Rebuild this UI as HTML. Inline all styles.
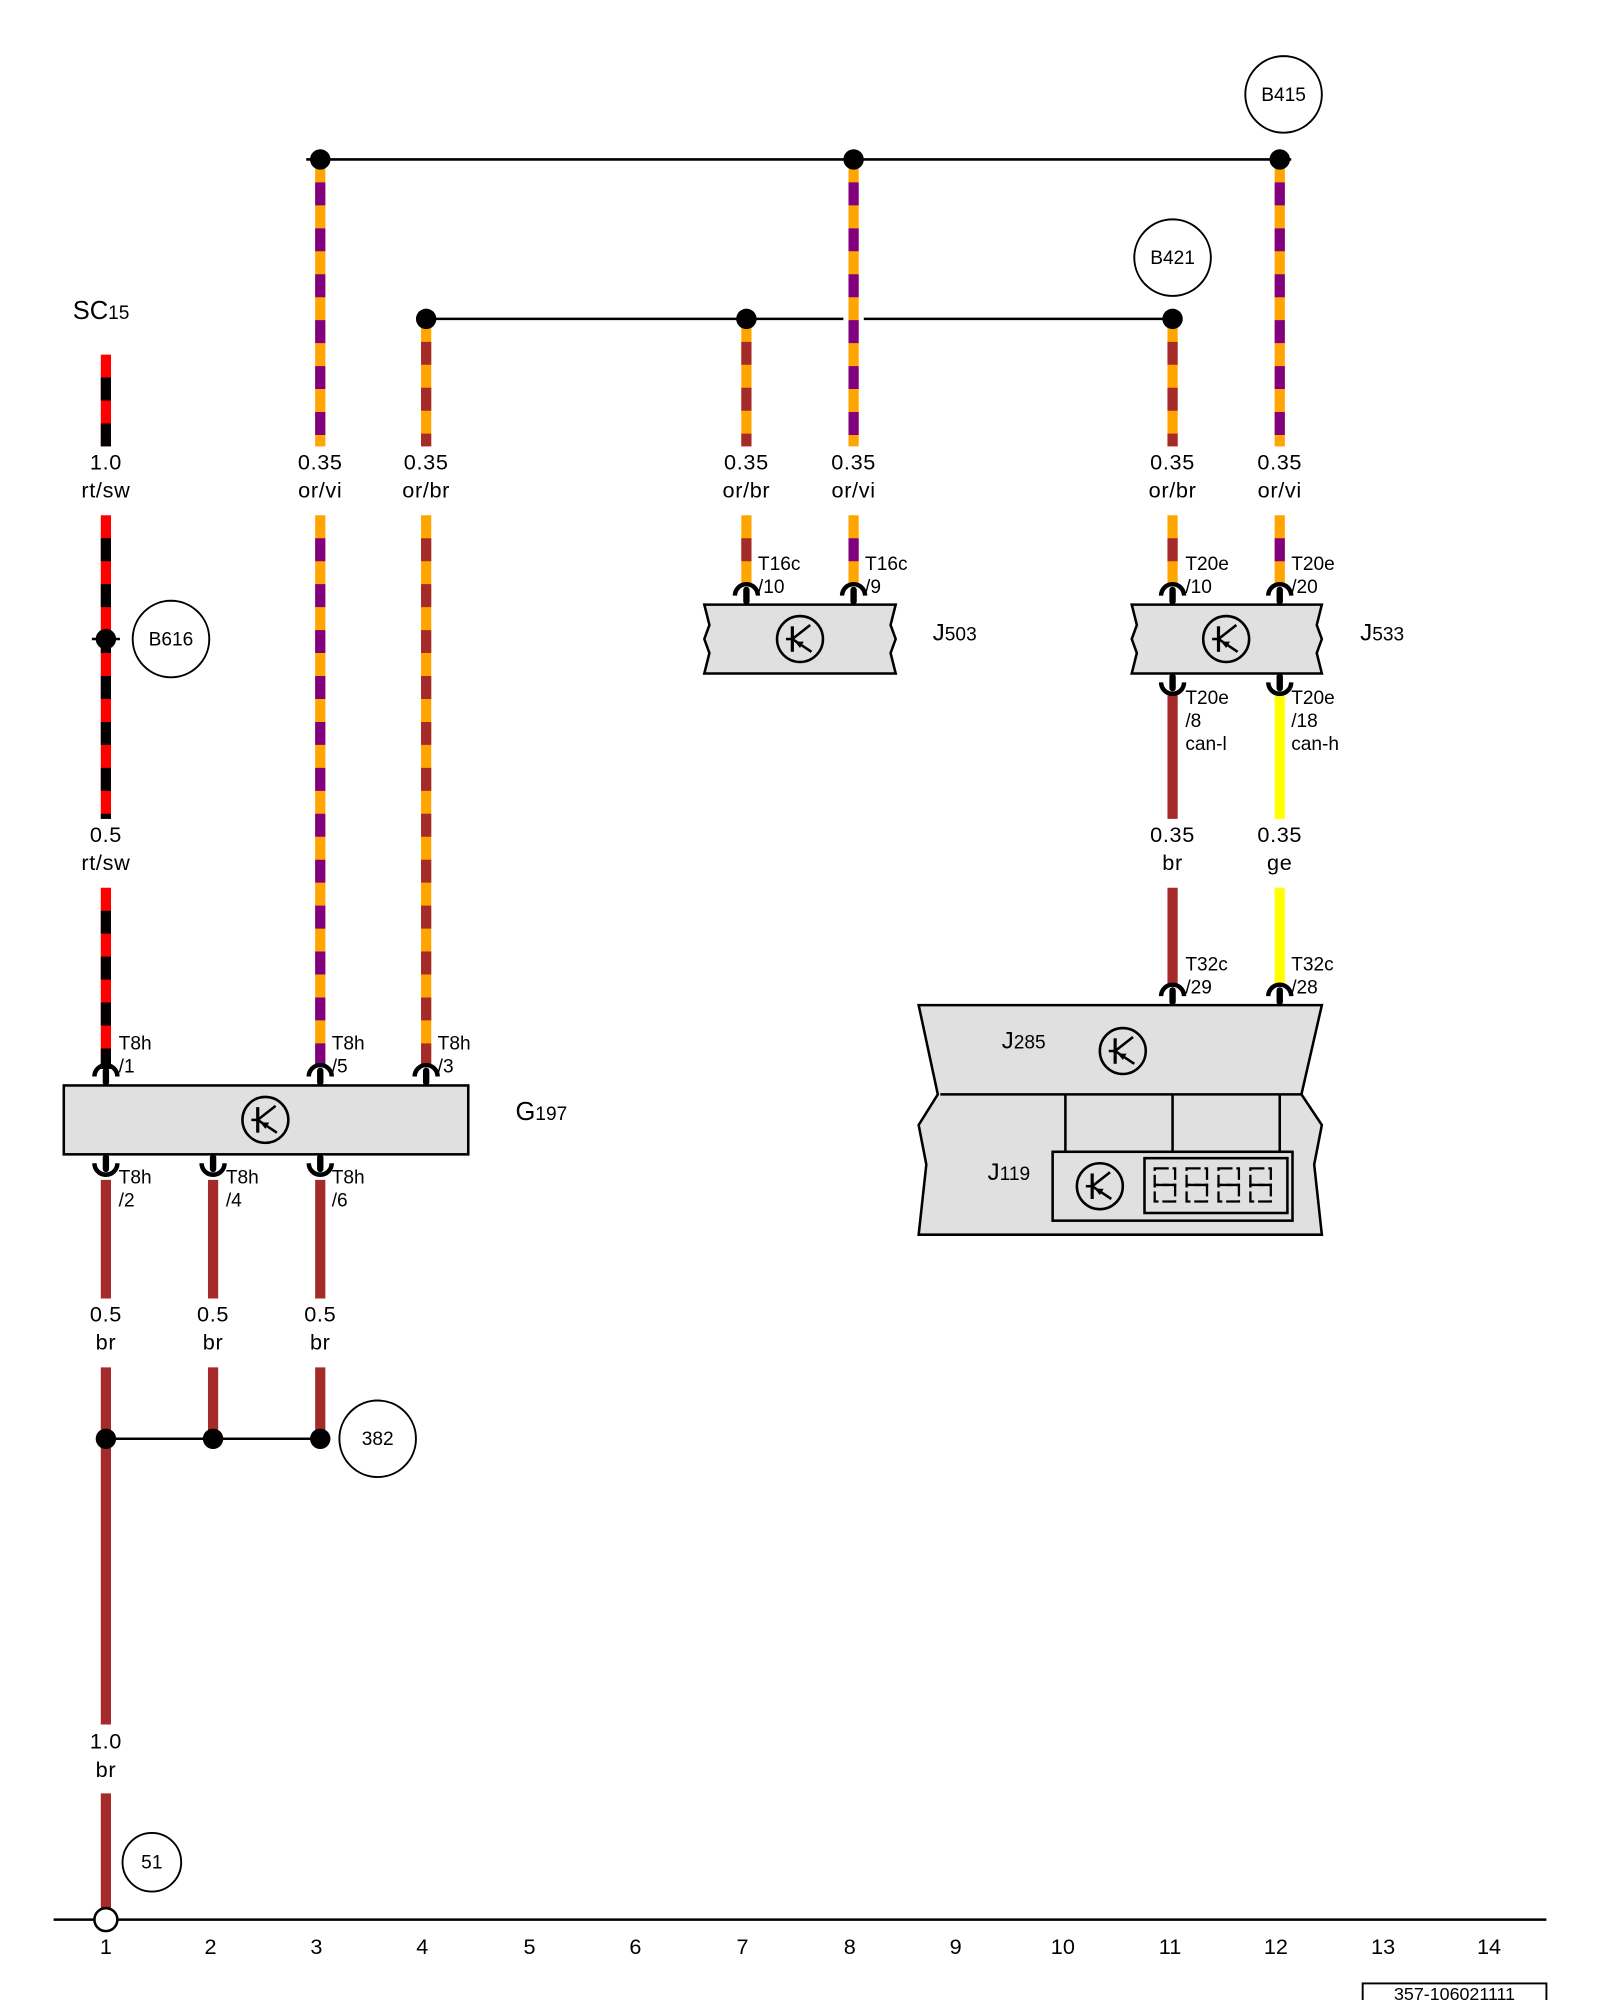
<!DOCTYPE html>
<html><head><meta charset="utf-8"><style>
html,body{margin:0;padding:0;background:#fff;}
svg{display:block;}
text{font-family:"Liberation Sans",sans-serif;fill:#000;}
.wl{font-size:17px;text-anchor:middle;letter-spacing:0.5px}
.cl{font-size:15px}
.nl{font-size:15px;text-anchor:middle}
</style></head><body>
<svg id="s" width="1600" height="2000" viewBox="0 0 1254 1568" preserveAspectRatio="none" xmlns="http://www.w3.org/2000/svg">
<g id="g"></g>
<line x1="240" y1="125" x2="1012" y2="125" stroke="#000" stroke-width="2"/>
<line x1="334" y1="250" x2="661" y2="250" stroke="#000" stroke-width="2"/>
<line x1="677" y1="250" x2="919" y2="250" stroke="#000" stroke-width="2"/>
<line x1="83" y1="1128" x2="251" y2="1128" stroke="#000" stroke-width="2"/>
<line x1="42" y1="1505" x2="1212" y2="1505" stroke="#000" stroke-width="2"/>
<line x1="72" y1="501" x2="94" y2="501" stroke="#000" stroke-width="2"/>
<rect x="50" y="851" width="317" height="54" fill="#e0e0e0" stroke="#000" stroke-width="2"/>
<path d="M552 474 H702 L698 490 L702 501 L698 512 L702 528 H552 L556 512 L552 501 L556 490 Z" fill="#e0e0e0" stroke="#000" stroke-width="2"/>
<path d="M887 474 H1036 L1032 490 L1036 501 L1032 512 L1036 528 H887 L891 512 L887 501 L891 490 Z" fill="#e0e0e0" stroke="#000" stroke-width="2"/>
<path d="M720 788 H1036 L1020 858 L1036 882 L1030 913 L1036 968 H720 L726 913 L720 882 L735 858 Z" fill="#e0e0e0" stroke="#000" stroke-width="2"/>
<line x1="737" y1="858" x2="1021" y2="858" stroke="#000" stroke-width="2"/>
<line x1="835" y1="858" x2="835" y2="903" stroke="#000" stroke-width="2"/>
<line x1="919" y1="858" x2="919" y2="903" stroke="#000" stroke-width="2"/>
<line x1="1003" y1="858" x2="1003" y2="903" stroke="#000" stroke-width="2"/>
<rect x="825" y="903" width="188" height="54" fill="#e0e0e0" stroke="#000" stroke-width="2"/>
<rect x="897" y="908" width="112" height="43" fill="#e0e0e0" stroke="#000" stroke-width="2"/>
<g id="dig"></g>
<text x="953" y="941" style="font-size:1px;fill:none">8888</text>
<g fill="#fff" stroke="#000" stroke-width="1.5">
<circle cx="1006" cy="74" r="30"/><circle cx="919" cy="202" r="30"/>
<circle cx="134" cy="501" r="30"/><circle cx="296" cy="1128" r="30"/>
<circle cx="119" cy="1460" r="23"/>
</g>
<text class="nl" x="1006" y="79">B415</text>
<text class="nl" x="919" y="207">B421</text>
<text class="nl" x="134" y="506">B616</text>
<text class="nl" x="296" y="1133">382</text>
<text class="nl" x="119" y="1465">51</text>
<text x="57" y="250" style="font-size:20px">SC<tspan style="font-size:15px">15</tspan></text>
<text x="404" y="878" style="font-size:20px">G<tspan style="font-size:15px">197</tspan></text>
<text x="731" y="502" style="font-size:19px">J<tspan style="font-size:15px">503</tspan></text>
<text x="1066" y="502" style="font-size:19px">J<tspan style="font-size:15px">533</tspan></text>
<text x="785" y="822" style="font-size:19px">J<tspan style="font-size:15px">285</tspan></text>
<text x="774" y="925" style="font-size:19px">J<tspan style="font-size:15px">119</tspan></text>
<g class="wl">
<text x="83" y="368">1.0</text><text x="83" y="390">rt/sw</text>
<text x="251" y="368">0.35</text><text x="251" y="390">or/vi</text>
<text x="334" y="368">0.35</text><text x="334" y="390">or/br</text>
<text x="585" y="368">0.35</text><text x="585" y="390">or/br</text>
<text x="669" y="368">0.35</text><text x="669" y="390">or/vi</text>
<text x="919" y="368">0.35</text><text x="919" y="390">or/br</text>
<text x="1003" y="368">0.35</text><text x="1003" y="390">or/vi</text>
<text x="83" y="660">0.5</text><text x="83" y="682">rt/sw</text>
<text x="919" y="660">0.35</text><text x="919" y="682">br</text>
<text x="1003" y="660">0.35</text><text x="1003" y="682">ge</text>
<text x="83" y="1036">0.5</text><text x="83" y="1058">br</text>
<text x="167" y="1036">0.5</text><text x="167" y="1058">br</text>
<text x="251" y="1036">0.5</text><text x="251" y="1058">br</text>
<text x="83" y="1371">1.0</text><text x="83" y="1393">br</text>
</g>
<g class="cl">
<text x="93" y="823">T8h</text><text x="93" y="841">/1</text>
<text x="260" y="823">T8h</text><text x="260" y="841">/5</text>
<text x="343" y="823">T8h</text><text x="343" y="841">/3</text>
<text x="93" y="928">T8h</text><text x="93" y="946">/2</text>
<text x="177" y="928">T8h</text><text x="177" y="946">/4</text>
<text x="260" y="928">T8h</text><text x="260" y="946">/6</text>
<text x="594" y="447">T16c</text><text x="594" y="465">/10</text>
<text x="678" y="447">T16c</text><text x="678" y="465">/9</text>
<text x="929" y="447">T20e</text><text x="929" y="465">/10</text>
<text x="1012" y="447">T20e</text><text x="1012" y="465">/20</text>
<text x="929" y="552">T20e</text><text x="929" y="570">/8</text><text x="929" y="588">can-l</text>
<text x="1012" y="552">T20e</text><text x="1012" y="570">/18</text><text x="1012" y="588">can-h</text>
<text x="929" y="761">T32c</text><text x="929" y="779">/29</text>
<text x="1012" y="761">T32c</text><text x="1012" y="779">/28</text>
</g>
<g style="font-size:17px;text-anchor:middle">
<text x="83" y="1532">1</text><text x="165" y="1532">2</text><text x="248" y="1532">3</text><text x="331" y="1532">4</text><text x="415" y="1532">5</text><text x="498" y="1532">6</text><text x="582" y="1532">7</text><text x="666" y="1532">8</text><text x="749" y="1532">9</text><text x="833" y="1532">10</text><text x="917" y="1532">11</text><text x="1000" y="1532">12</text><text x="1084" y="1532">13</text><text x="1167" y="1532">14</text>
</g>
<rect x="1068" y="1555" width="144" height="20" fill="#fff" stroke="#000" stroke-width="1.5"/>
<text x="1140" y="1568" style="font-size:14px;text-anchor:middle">357-106021111</text>
<g id="top"></g>
</svg>
<script>
var NS="http://www.w3.org/2000/svg",g=document.getElementById('g'),t=document.getElementById('top'),dg=document.getElementById('dig');
function el(p,n,a){var e=document.createElementNS(NS,n);for(var k in a)e.setAttribute(k,a[k]);p.appendChild(e);return e;}
var C={r:"#ff0000",sw:"#000",or:"#ffa500",vi:"#800080",br:"#a52a2a",ge:"#ffff00"};
function w(x,y1,y2,c1,c2){el(g,'line',{x1:x,y1:y1,x2:x,y2:y2,stroke:C[c1],'stroke-width':8});
 if(c2)el(g,'line',{x1:x,y1:y1,x2:x,y2:y2,stroke:C[c2],'stroke-width':8,'stroke-dasharray':'18 18','stroke-dashoffset':'18'});}
w(83,278,350,'r','sw');w(83,404,642,'r','sw');w(83,696,838,'r','sw');
w(251,125,350,'or','vi');w(251,404,836,'or','vi');
w(334,250,350,'or','br');w(334,404,836,'or','br');
w(585,250,350,'or','br');w(585,404,458,'or','br');
w(669,125,350,'or','vi');w(669,404,458,'or','vi');
w(919,250,350,'or','br');w(919,404,458,'or','br');
w(1003,125,350,'or','vi');w(1003,404,458,'or','vi');
w(919,545,642,'br');w(1003,545,642,'ge');
w(919,696,772,'br');w(1003,696,772,'ge');
[83,167,251].forEach(function(x){w(x,925,1018,'br');});
w(83,1072,1352,'br');w(167,1072,1128,'br');w(251,1072,1128,'br');w(83,1406,1500,'br');
for(var i=0;i<4;i++){var x=905+i*25;
 el(dg,'rect',{x:x,y:916,width:16,height:13,fill:'none',stroke:'#000','stroke-width':1.8,'stroke-dasharray':'11 3'});
 el(dg,'rect',{x:x,y:929,width:16,height:13,fill:'none',stroke:'#000','stroke-width':1.8,'stroke-dasharray':'11 3'});}
function cTop(x,b){el(t,'path',{d:'M'+(x-9)+' '+(b-7)+' A9 9 0 0 1 '+(x+9)+' '+(b-7),fill:'none',stroke:'#000','stroke-width':3.5});
 el(t,'rect',{x:x-2.5,y:b-14,width:5,height:14,rx:2.5,fill:'#000'});}
function cBot(x,b){el(t,'path',{d:'M'+(x-9)+' '+(b+7)+' A9 9 0 0 0 '+(x+9)+' '+(b+7),fill:'none',stroke:'#000','stroke-width':3.5});
 el(t,'rect',{x:x-2.5,y:b,width:5,height:14,rx:2.5,fill:'#000'});}
cTop(83,851);cTop(251,851);cTop(334,851);cBot(83,905);cBot(167,905);cBot(251,905);
cTop(585,474);cTop(669,474);cTop(919,474);cTop(1003,474);cBot(919,528);cBot(1003,528);
cTop(919,788);cTop(1003,788);
function sym(x,y){el(t,'circle',{cx:x,cy:y,r:18,fill:'none',stroke:'#000','stroke-width':2});
 el(t,'line',{x1:x-6,y1:y-10,x2:x-6,y2:y+10,stroke:'#000','stroke-width':2.5});
 el(t,'line',{x1:x-11,y1:y,x2:x-6,y2:y,stroke:'#000','stroke-width':2});
 el(t,'line',{x1:x-6,y1:y,x2:x+8,y2:y-11,stroke:'#000','stroke-width':2});
 el(t,'line',{x1:x-6,y1:y,x2:x+9,y2:y+10,stroke:'#000','stroke-width':2});
 el(t,'path',{d:'M'+(x-4)+' '+(y+2)+' l7 0 l-3 5 z',fill:'#000'});}
sym(208,878);sym(627,501);sym(961,501);sym(880,824);sym(862,930);
[[251,125],[669,125],[1003,125],[334,250],[585,250],[919,250],[83,501],[83,1128],[167,1128],[251,1128]].forEach(function(p){el(t,'circle',{cx:p[0],cy:p[1],r:8,fill:'#000'});});
el(t,'circle',{cx:83,cy:1505,r:9,fill:'#fff',stroke:'#000','stroke-width':2});
</script>
</body></html>
